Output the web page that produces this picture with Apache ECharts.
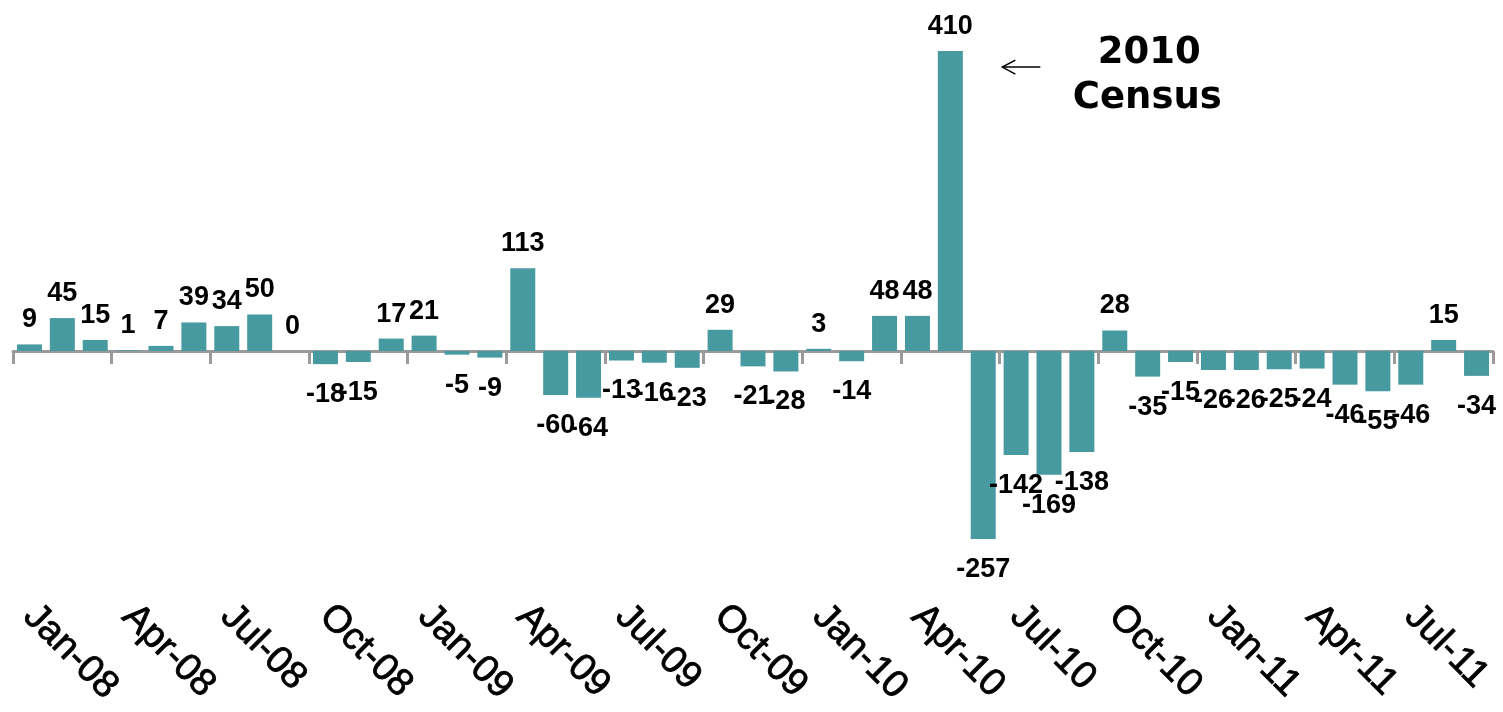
<!DOCTYPE html>
<html>
<head>
<meta charset="utf-8">
<script src="https://cdn.jsdelivr.net/npm/echarts@6/dist/echarts.min.js"></script>
<style>
  html, body { margin: 0; padding: 0; background: #fff; }
  #chart { width: 1503px; height: 712px; }
</style>
</head>
<body>
<div id="chart"></div>
<script>
// months, Jan-08 .. Sep-11
const months = [
  'Jan-08', 'Feb-08', 'Mar-08', 'Apr-08', 'May-08', 'Jun-08', 'Jul-08', 'Aug-08', 'Sep-08', 'Oct-08', 'Nov-08', 'Dec-08',
  'Jan-09', 'Feb-09', 'Mar-09', 'Apr-09', 'May-09', 'Jun-09', 'Jul-09', 'Aug-09', 'Sep-09', 'Oct-09', 'Nov-09', 'Dec-09',
  'Jan-10', 'Feb-10', 'Mar-10', 'Apr-10', 'May-10', 'Jun-10', 'Jul-10', 'Aug-10', 'Sep-10', 'Oct-10', 'Nov-10', 'Dec-10',
  'Jan-11', 'Feb-11', 'Mar-11', 'Apr-11', 'May-11', 'Jun-11', 'Jul-11', 'Aug-11', 'Sep-11'
]
const changes = [
  9, 45, 15, 1, 7, 39, 34, 50, 0, -18, -15, 17,
  21, -5, -9, 113, -60, -64, -13, -16, -23, 29, -21, -28,
  3, -14, 48, 48, 410, -257, -142, -169, -138, 28, -35, -15,
  -26, -26, -25, -24, -46, -55, -46, 15, -34
]
const noteLines = ['2010', 'Census']
const noteMonth = 'May-10'

const chart = echarts.init(document.getElementById('chart'))

// labels above for gains, below for losses
const barData = changes.map(v => ({
  value: v,
  label: v < 0 ? {position: 'bottom', distance: 17} : {position: 'top', distance: 11}
}))

chart.setOption({
  backgroundColor: '#fff',
  animation: false,
  grid: {left: 13, right: 10, top: 43.7, bottom: 141.5},
  xAxis: [
    {
      // line at zero with ticks every quarter
      type: 'category',
      data: months,
      axisLine: {onZero: true, lineStyle: {color: '#9a9a9a', width: 3}},
      axisTick: {show: true, interval: 2, length: 13, lineStyle: {color: '#9a9a9a', width: 3}},
      axisLabel: {show: false}
    },
    {
      // labels along the bottom
      type: 'category',
      data: months,
      position: 'bottom',
      axisLine: {show: false, onZero: false},
      axisTick: {show: false},
      axisLabel: {
        interval: 2,
        rotate: -45,
        margin: 40,
        color: '#000',
        fontFamily: 'Liberation Sans',
        fontSize: 38,
        textBorderColor: '#000',
        textBorderWidth: 0.8,
        textShadowColor: '#666',
        textShadowOffsetX: 2,
        textShadowOffsetY: 2,
        textShadowBlur: 0
      }
    }
  ],
  yAxis: {
    type: 'value',
    min: -300,
    max: 420,
    show: false,
    splitLine: {show: false}
  },
  series: [{
    type: 'bar',
    data: barData,
    barWidth: '76%',
    itemStyle: {color: '#489aa1'},
    label: {
      show: true,
      color: '#000',
      fontFamily: 'Liberation Sans',
      fontWeight: 'bold',
      fontSize: 27
    }
  }]
})

// annotation next to the census bar
const tip = chart.convertToPixel({seriesIndex: 0}, [noteMonth, 388])
const ax = tip[0] + 52
const ay = tip[1]
chart.setOption({
  graphic: [
    {type: 'line', shape: {x1: ax, y1: ay, x2: ax + 38, y2: ay}, style: {stroke: '#000', lineWidth: 1.5}},
    {type: 'polyline', shape: {points: [[ax + 13, ay - 7], [ax, ay], [ax + 13, ay + 7]]}, style: {stroke: '#000', lineWidth: 1.5, fill: null}},
    {type: 'text', x: ax + 147, y: ay - 14, style: {text: noteLines[0], font: 'bold 37px "DejaVu Sans"', fill: '#000', align: 'center', verticalAlign: 'middle'}},
    {type: 'text', x: ax + 145, y: ay + 31, style: {text: noteLines[1], font: 'bold 37px "DejaVu Sans"', fill: '#000', align: 'center', verticalAlign: 'middle'}}
  ]
})
</script>
</body>
</html>
